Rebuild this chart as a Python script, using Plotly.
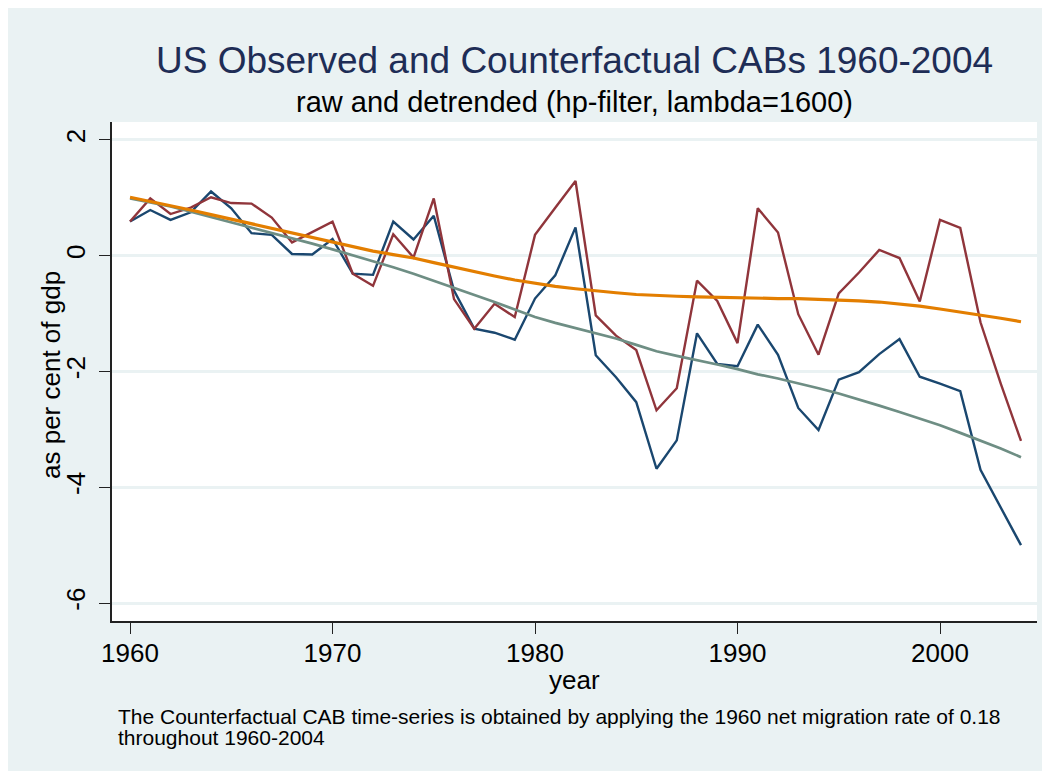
import plotly.graph_objects as go

years = list(range(1960, 2005))

observed = [0.59, 0.79, 0.62, 0.75, 1.11, 0.82, 0.39, 0.36, 0.03, 0.02,
            0.29, -0.31, -0.33, 0.59, 0.28, 0.69, -0.60, -1.26, -1.33, -1.45,
            -0.74, -0.34, 0.49, -1.72, -2.10, -2.53, -3.68, -3.19, -1.34, -1.87,
            -1.91, -1.19, -1.71, -2.63, -3.01, -2.14, -2.01, -1.70, -1.44, -2.09,
            -2.21, -2.34, -3.70, -4.34, -5.00]

counterfactual = [0.59, 0.99, 0.72, 0.83, 1.01, 0.91, 0.90, 0.66, 0.23, 0.41,
                  0.59, -0.31, -0.52, 0.37, -0.03, 0.99, -0.75, -1.26, -0.83, -1.06,
                  0.36, 0.83, 1.29, -1.03, -1.38, -1.63, -2.67, -2.29, -0.43, -0.78,
                  -1.51, 0.82, 0.40, -1.01, -1.71, -0.65, -0.29, 0.10, -0.04, -0.79,
                  0.62, 0.48, -1.15, -2.21, -3.20]

trend_counterfactual = [1.01, 0.94, 0.87, 0.79, 0.71, 0.63, 0.55, 0.47, 0.39, 0.31,
                        0.23, 0.15, 0.08, 0.02, -0.04, -0.12, -0.20, -0.28, -0.35, -0.42,
                        -0.48, -0.53, -0.57, -0.61, -0.64, -0.67, -0.69, -0.70, -0.71, -0.72,
                        -0.73, -0.74, -0.74, -0.74, -0.75, -0.76, -0.78, -0.80, -0.83, -0.87,
                        -0.92, -0.97, -1.03, -1.08, -1.14]

trend_observed = [0.99, 0.92, 0.85, 0.76, 0.67, 0.58, 0.48, 0.39, 0.30, 0.21,
                  0.11, 0.01, -0.10, -0.20, -0.31, -0.43, -0.55, -0.67, -0.80, -0.93,
                  -1.06, -1.16, -1.25, -1.33, -1.43, -1.54, -1.65, -1.73, -1.80, -1.88,
                  -1.96, -2.05, -2.12, -2.20, -2.29, -2.38, -2.48, -2.59, -2.70, -2.81,
                  -2.93, -3.06, -3.19, -3.33, -3.48]

x_ticks = [1960, 1970, 1980, 1990, 2000]
y_ticks = [2, 0, -2, -4, -6]

title = "US Observed and Counterfactual CABs 1960-2004"
subtitle = "raw and detrended (hp-filter, lambda=1600)"
x_title = "year"
y_title = "as per cent of gdp"
note_line1 = "The Counterfactual CAB time-series is obtained by applying the 1960 net migration rate of 0.18"
note_line2 = "throughout 1960-2004"

FONT = "Liberation Sans, Arial, sans-serif"
BG = "#eaf2f3"

fig = go.Figure()
fig.add_trace(go.Scatter(x=years, y=observed, mode="lines",
                         line=dict(color="#1a476f", width=2.4), name="observed"))
fig.add_trace(go.Scatter(x=years, y=counterfactual, mode="lines",
                         line=dict(color="#90353b", width=2.4), name="counterfactual"))
fig.add_trace(go.Scatter(x=years, y=trend_observed, mode="lines",
                         line=dict(color="#6e8e84", width=2.7), name="trend observed"))
fig.add_trace(go.Scatter(x=years, y=trend_counterfactual, mode="lines",
                         line=dict(color="#e37e00", width=3.2), name="trend counterfactual"))

# page has an 8px body margin; positions below are page pixels of the reference
OFF = 8
W, H = 1050 - OFF, 771 - OFF
L, R, T, B = 112 - OFF, 1037 - OFF, 122 - OFF, 621 - OFF
pw, ph = R - L, B - T


def px(xp):
    return (xp - OFF - L) / pw


def py(yp):
    return (B - (yp - OFF)) / ph


annotations = [
    dict(text=title, x=0.5, y=py(60), xref="paper", yref="paper", showarrow=False,
         xanchor="center", yanchor="middle", font=dict(family=FONT, size=37, color="#1e2d56")),
    dict(text=subtitle, x=0.5, y=py(102), xref="paper", yref="paper", showarrow=False,
         xanchor="center", yanchor="middle", font=dict(family=FONT, size=29, color="#000000")),
    dict(text=x_title, x=0.5, y=py(680), xref="paper", yref="paper", showarrow=False,
         xanchor="center", yanchor="middle", font=dict(family=FONT, size=26, color="#000000")),
    dict(text=y_title, x=px(51), y=py(375), xref="paper", yref="paper", showarrow=False,
         textangle=-90, xanchor="center", yanchor="middle",
         font=dict(family=FONT, size=26, color="#000000")),
    dict(text=note_line1, x=px(116), y=py(716), xref="paper", yref="paper", showarrow=False,
         xanchor="left", yanchor="middle", align="left",
         font=dict(family=FONT, size=21, color="#000000")),
    dict(text=note_line2, x=px(116), y=py(737), xref="paper", yref="paper", showarrow=False,
         xanchor="left", yanchor="middle", align="left",
         font=dict(family=FONT, size=21, color="#000000")),
]

fig.update_layout(
    width=W, height=H,
    margin=dict(l=L, r=W - R, t=T, b=H - B, pad=0),
    paper_bgcolor=BG, plot_bgcolor="#ffffff",
    showlegend=False,
    font=dict(family=FONT, color="#000000"),
    annotations=annotations,
    xaxis=dict(range=[1959.11, 2004.79], tickvals=x_ticks, ticktext=[str(v) for v in x_ticks],
               showgrid=False, zeroline=False, showline=True, linecolor="#222222", linewidth=1.5,
               ticks="outside", ticklen=11, tickwidth=1.3, tickcolor="#222222",
               ticklabelstandoff=-3,
               tickfont=dict(family=FONT, size=26, color="#000000")),
    yaxis=dict(range=[-6.31, 2.31], tickvals=y_ticks, ticktext=[str(v) for v in y_ticks],
               showgrid=True, gridcolor=BG, gridwidth=3, zeroline=False,
               showline=True, linecolor="#222222", linewidth=1.5,
               ticks="outside", ticklen=11, tickwidth=1.3, tickcolor="#222222",
               tickangle=-90, ticklabelstandoff=4,
               tickfont=dict(family=FONT, size=26, color="#000000")),
)

fig.write_html("out.html")
